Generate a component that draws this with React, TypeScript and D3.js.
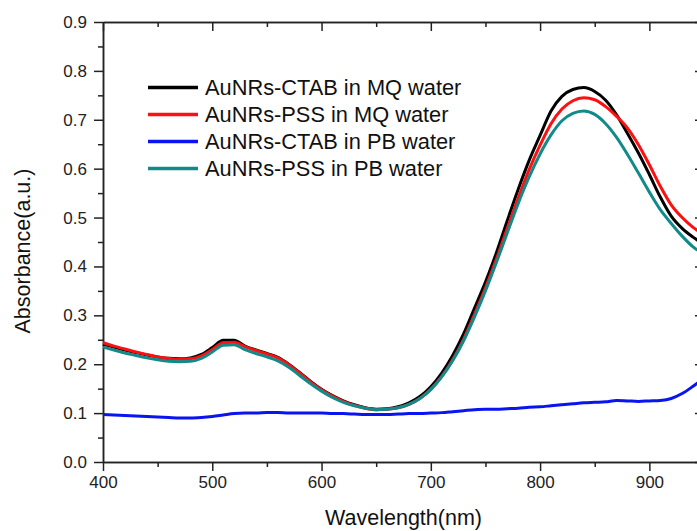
import React, { useEffect, useRef } from 'react';
import * as d3 from 'd3';

// wavelength grid (nm)
const wavelengths = [
  400, 410, 420, 430, 440, 450, 460, 470, 480, 490,
  500, 510, 520, 530, 540, 550, 560, 570, 580, 590,
  600, 610, 620, 630, 640, 650, 660, 670, 680, 690,
  700, 710, 720, 730, 740, 750, 760, 770, 780, 790,
  800, 810, 820, 830, 840, 850, 860, 870, 880, 890,
  900, 910, 920, 930, 940, 950,
];

const ctabMQ = [
  0.241, 0.235, 0.229, 0.224, 0.219, 0.215, 0.212, 0.211, 0.213, 0.220,
  0.234, 0.249, 0.249, 0.237, 0.229, 0.222, 0.214, 0.200, 0.183, 0.165,
  0.149, 0.136, 0.125, 0.117, 0.111, 0.108, 0.109, 0.113, 0.121, 0.134,
  0.154, 0.182, 0.218, 0.262, 0.315, 0.368, 0.428, 0.494, 0.558, 0.617,
  0.668, 0.718, 0.748, 0.762, 0.766, 0.758, 0.740, 0.710, 0.672, 0.632,
  0.588, 0.542, 0.503, 0.478, 0.460, 0.445,
];

const pssMQ = [
  0.244, 0.237, 0.231, 0.225, 0.220, 0.215, 0.212, 0.210, 0.211, 0.217,
  0.230, 0.244, 0.245, 0.236, 0.228, 0.221, 0.213, 0.199, 0.182, 0.164,
  0.148, 0.135, 0.124, 0.116, 0.110, 0.107, 0.108, 0.111, 0.118, 0.130,
  0.149, 0.175, 0.209, 0.251, 0.302, 0.356, 0.415, 0.478, 0.540, 0.598,
  0.648, 0.692, 0.722, 0.739, 0.745, 0.741, 0.727, 0.707, 0.683, 0.649,
  0.608, 0.564, 0.526, 0.500, 0.480, 0.465,
];

const ctabPB = [
  0.097, 0.096, 0.095, 0.094, 0.093, 0.092, 0.091, 0.090, 0.090, 0.091,
  0.093, 0.096, 0.099, 0.100, 0.100, 0.101, 0.101, 0.100, 0.100, 0.100,
  0.100, 0.099, 0.099, 0.098, 0.097, 0.097, 0.097, 0.098, 0.099, 0.099,
  0.100, 0.101, 0.103, 0.105, 0.107, 0.108, 0.108, 0.109, 0.110, 0.112,
  0.113, 0.115, 0.117, 0.119, 0.121, 0.122, 0.123, 0.126, 0.125, 0.124,
  0.125, 0.126, 0.130, 0.140, 0.155, 0.172,
];

const pssPB = [
  0.235, 0.229, 0.223, 0.218, 0.213, 0.209, 0.206, 0.205, 0.206, 0.212,
  0.225, 0.239, 0.240, 0.230, 0.222, 0.215, 0.207, 0.194, 0.177, 0.160,
  0.145, 0.132, 0.122, 0.115, 0.110, 0.107, 0.108, 0.111, 0.118, 0.130,
  0.148, 0.174, 0.207, 0.248, 0.297, 0.350, 0.408, 0.469, 0.529, 0.583,
  0.630, 0.669, 0.698, 0.713, 0.718, 0.711, 0.692, 0.664, 0.629, 0.591,
  0.552, 0.516, 0.488, 0.462, 0.440, 0.425,
];

const seriesNames = [
  'AuNRs-CTAB in MQ water',
  'AuNRs-PSS in MQ water',
  'AuNRs-CTAB in PB water',
  'AuNRs-PSS in PB water',
];
const seriesColors = ['#000000', '#ff1010', '#0a14f0', '#138a8a'];
const seriesValues = [ctabMQ, pssMQ, ctabPB, pssPB];

const xMajor = [400, 500, 600, 700, 800, 900];
const xMinor = [450, 550, 650, 750, 850];
const yMajor = [0, 0.1, 0.2, 0.3, 0.4, 0.5, 0.6, 0.7, 0.8, 0.9];
const yMinor = [0.05, 0.15, 0.25, 0.35, 0.45, 0.55, 0.65, 0.75, 0.85];

export default function App() {
  const svgRef = useRef<SVGSVGElement>(null);

  useEffect(() => {
    const width = 697;
    const height = 531;
    const left = 103, right = 704, top = 22, bottom = 462;
    const font = '"Liberation Sans", Arial, sans-serif';
    const axisColor = '#222';

    const svg = d3.select(svgRef.current);
    svg.selectAll('*').remove();
    svg.attr('width', width).attr('height', height);

    const x = d3.scaleLinear().domain([400, 950]).range([left, right]);
    const y = d3.scaleLinear().domain([0, 0.9]).range([bottom, top]);

    const styleAxis = (g: any) => {
      g.selectAll('path, line').attr('stroke', axisColor).attr('stroke-width', 1.5);
      g.selectAll('text').attr('font-family', font).attr('font-size', 17).attr('fill', axisColor);
    };

    // bottom axis
    svg.append('g')
      .attr('transform', `translate(0,${bottom})`)
      .call(d3.axisBottom(x).tickValues(xMinor).tickSize(5).tickFormat(() => '').tickSizeOuter(0))
      .call(styleAxis);
    svg.append('g')
      .attr('transform', `translate(0,${bottom})`)
      .call(d3.axisBottom(x).tickValues(xMajor).tickSize(9).tickPadding(5).tickFormat(d3.format('d')).tickSizeOuter(0))
      .call(styleAxis);

    // top axis (ticks inward)
    svg.append('g')
      .attr('transform', `translate(0,${top})`)
      .call(d3.axisTop(x).tickValues(xMinor).tickSize(-5).tickFormat(() => '').tickSizeOuter(0))
      .call(styleAxis);
    svg.append('g')
      .attr('transform', `translate(0,${top})`)
      .call(d3.axisTop(x).tickValues(xMajor).tickSize(-9).tickFormat(() => '').tickSizeOuter(0))
      .call(styleAxis);

    // left axis
    svg.append('g')
      .attr('transform', `translate(${left},0)`)
      .call(d3.axisLeft(y).tickValues(yMinor).tickSize(5).tickFormat(() => '').tickSizeOuter(0))
      .call(styleAxis);
    svg.append('g')
      .attr('transform', `translate(${left},0)`)
      .call(d3.axisLeft(y).tickValues(yMajor).tickSize(9).tickPadding(7).tickFormat(d3.format('.1f')).tickSizeOuter(0))
      .call(styleAxis);

    // right axis (ticks inward)
    svg.append('g')
      .attr('transform', `translate(${right},0)`)
      .call(d3.axisRight(y).tickValues(yMinor).tickSize(-5).tickFormat(() => '').tickSizeOuter(0))
      .call(styleAxis);
    svg.append('g')
      .attr('transform', `translate(${right},0)`)
      .call(d3.axisRight(y).tickValues(yMajor).tickSize(-9).tickFormat(() => '').tickSizeOuter(0))
      .call(styleAxis);

    // curves
    const line = d3.line<number>()
      .x((_, i) => x(wavelengths[i]))
      .y(d => y(d))
      .curve(d3.curveMonotoneX);

    seriesValues.forEach((vals, i) => {
      svg.append('path')
        .datum(vals)
        .attr('fill', 'none')
        .attr('stroke', seriesColors[i])
        .attr('stroke-width', 3)
        .attr('stroke-linejoin', 'round')
        .attr('d', line);
    });

    // legend
    const legend = svg.append('g');
    seriesNames.forEach((name, i) => {
      const ly = 87.5 + i * 27;
      legend.append('line')
        .attr('x1', 148).attr('x2', 198)
        .attr('y1', ly).attr('y2', ly)
        .attr('stroke', seriesColors[i])
        .attr('stroke-width', 3.5);
      legend.append('text')
        .attr('x', 205)
        .attr('y', ly + 7.5)
        .attr('font-family', font)
        .attr('font-size', 21.8)
        .attr('fill', '#111')
        .text(name);
    });

    // axis titles
    svg.append('text')
      .attr('x', (left + right) / 2)
      .attr('y', 525)
      .attr('text-anchor', 'middle')
      .attr('font-family', font)
      .attr('font-size', 21.5)
      .attr('fill', '#111')
      .text('Wavelength(nm)');

    svg.append('text')
      .attr('transform', `translate(30,251) rotate(-90)`)
      .attr('text-anchor', 'middle')
      .attr('font-family', font)
      .attr('font-size', 21.5)
      .attr('fill', '#111')
      .text('Absorbance(a.u.)');
  }, []);

  return (
    <div style={{ position: 'absolute', left: 0, top: 0, background: '#fff' }}>
      <svg ref={svgRef} style={{ display: 'block' }}></svg>
    </div>
  );
}
